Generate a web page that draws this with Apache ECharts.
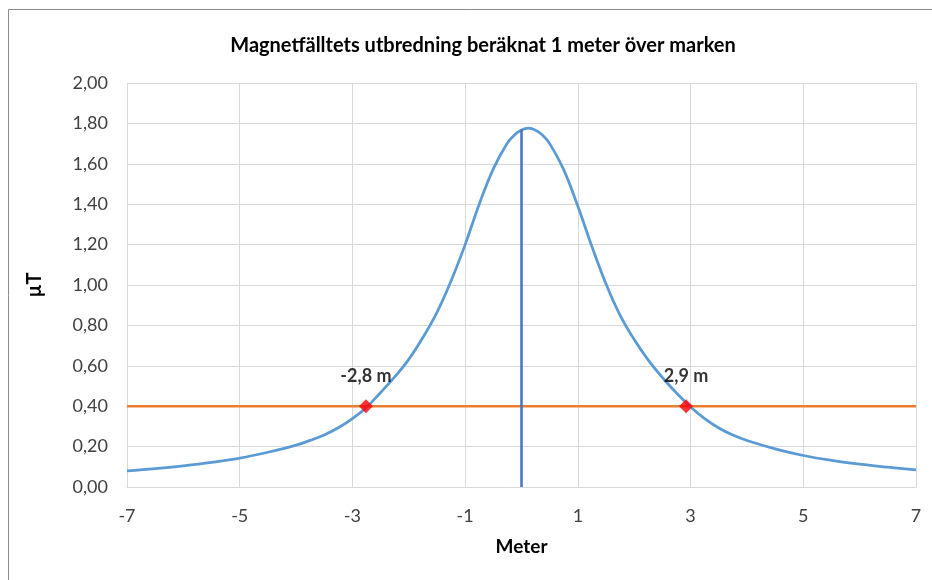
<!DOCTYPE html>
<html><head><meta charset="utf-8">
<script src="https://cdn.jsdelivr.net/npm/echarts@6/dist/echarts.min.js"></script>
<style>html,body{margin:0;padding:0;background:#fff}#c{width:932px;height:580px}</style>
</head><body><div id="c"></div>
<script>
const titleText = 'Magnetfälltets utbredning beräknat 1 meter över marken';
const xName = 'Meter';
const yName = 'µT';
// Field curve (x in metres, y in µT)
const curveX = [-7, -6.5, -6, -5.5, -5, -4.5, -4, -3.75, -3.5, -3.25, -3, -2.75, -2.5, -2.25, -2, -1.75, -1.5, -1.25, -1, -0.75, -0.5, -0.25, -0.125, 0, 0.125, 0.25, 0.375, 0.5, 0.75, 1, 1.25, 1.5, 1.75, 2, 2.25, 2.5, 2.75, 3, 3.25, 3.5, 3.75, 4, 4.5, 5, 5.5, 6, 6.5, 7];
const curveY = [0.080, 0.091, 0.105, 0.122, 0.143, 0.172, 0.207, 0.231, 0.258, 0.293, 0.338, 0.395, 0.468, 0.545, 0.632, 0.74, 0.865, 1.02, 1.20, 1.40, 1.575, 1.703, 1.743, 1.767, 1.776, 1.766, 1.741, 1.70, 1.57, 1.39, 1.19, 1.005, 0.85, 0.73, 0.628, 0.542, 0.465, 0.396, 0.338, 0.292, 0.257, 0.23, 0.189, 0.156, 0.132, 0.113, 0.098, 0.085];
// Centre line
const centreX = [0, 0];
const centreY = [0, 1.77];
// Limit line
const limitX = [-7, 7];
const limitY = [0.4, 0.4];
// Intersection markers
const markerX = [-2.76, 2.92];
const markerY = [0.4, 0.4];
const markerLabels = ['-2,8 m', '2,9 m'];
// Axes
const xMin = -7, xMax = 7;
const yMin = 0, yMax = 2, yStep = 0.2;

const zip = (a, b) => a.map((v, i) => [v, b[i]]);
const FONT = 'Lato';
const chart = echarts.init(document.getElementById('c'), null, {renderer: 'canvas'});
chart.setOption({
  animation: false,
  backgroundColor: '#fff',
  title: {
    text: titleText, left: 478, top: 31, textAlign: 'center',
    textStyle: {fontFamily: FONT, fontSize: 20, fontWeight: 'bold', color: '#000'}
  },
  graphic: [{
    type: 'rect', shape: {x: 8.5, y: 9.5, width: 1000, height: 700},
    style: {fill: 'none', stroke: '#8a8a8a', lineWidth: 1}, silent: true
  }],
  grid: {left: 127, right: 16, top: 83, bottom: 93, containLabel: false},
  xAxis: {
    type: 'value', min: xMin, max: xMax, interval: 1,
    name: xName, nameLocation: 'middle', nameGap: 50,
    nameTextStyle: {fontFamily: FONT, fontSize: 19, fontWeight: 'bold', color: '#000'},
    axisLine: {show: true, lineStyle: {color: '#d9d9d9', width: 1}},
    axisTick: {show: false},
    axisLabel: {
      fontFamily: FONT, fontSize: 18, color: '#404040', margin: 20,
      formatter: v => (Math.abs(Math.round(v)) % 2 === 1 ? String(v) : '')
    },
    splitLine: {show: true, lineStyle: {color: ['#d9d9d9', 'rgba(0,0,0,0)'], width: 1}}
  },
  yAxis: {
    type: 'value', min: yMin, max: yMax, interval: yStep,
    name: yName, nameLocation: 'middle', nameGap: 82, nameRotate: 90,
    nameTextStyle: {fontFamily: FONT, fontSize: 20, fontWeight: 'bold', color: '#000'},
    axisLine: {show: false}, axisTick: {show: false},
    axisLabel: {
      fontFamily: FONT, fontSize: 18, color: '#404040', margin: 19,
      formatter: v => v.toFixed(2).replace('.', ',')
    },
    splitLine: {show: true, lineStyle: {color: '#d9d9d9', width: 1}}
  },
  series: [
    {
      type: 'line', data: zip(limitX, limitY), symbol: 'none', z: 2,
      lineStyle: {color: '#ED7D31', width: 2.5}
    },
    {
      type: 'line', data: zip(curveX, curveY), symbol: 'none', smooth: 0.4, z: 3,
      lineStyle: {color: '#5B9BD5', width: 2.75}
    },
    {
      type: 'line', data: zip(centreX, centreY), symbol: 'none', z: 4,
      lineStyle: {color: '#4472C4', width: 2.5}
    },
    {
      type: 'scatter', data: zip(markerX, markerY), symbol: 'diamond', symbolSize: 14, z: 5,
      itemStyle: {color: '#FF0000'},
      label: {
        show: true, position: 'top', distance: 14,
        formatter: p => markerLabels[p.dataIndex],
        fontFamily: FONT, fontSize: 18, fontWeight: 'bold', color: '#000'
      }
    }
  ]
});
</script></body></html>
